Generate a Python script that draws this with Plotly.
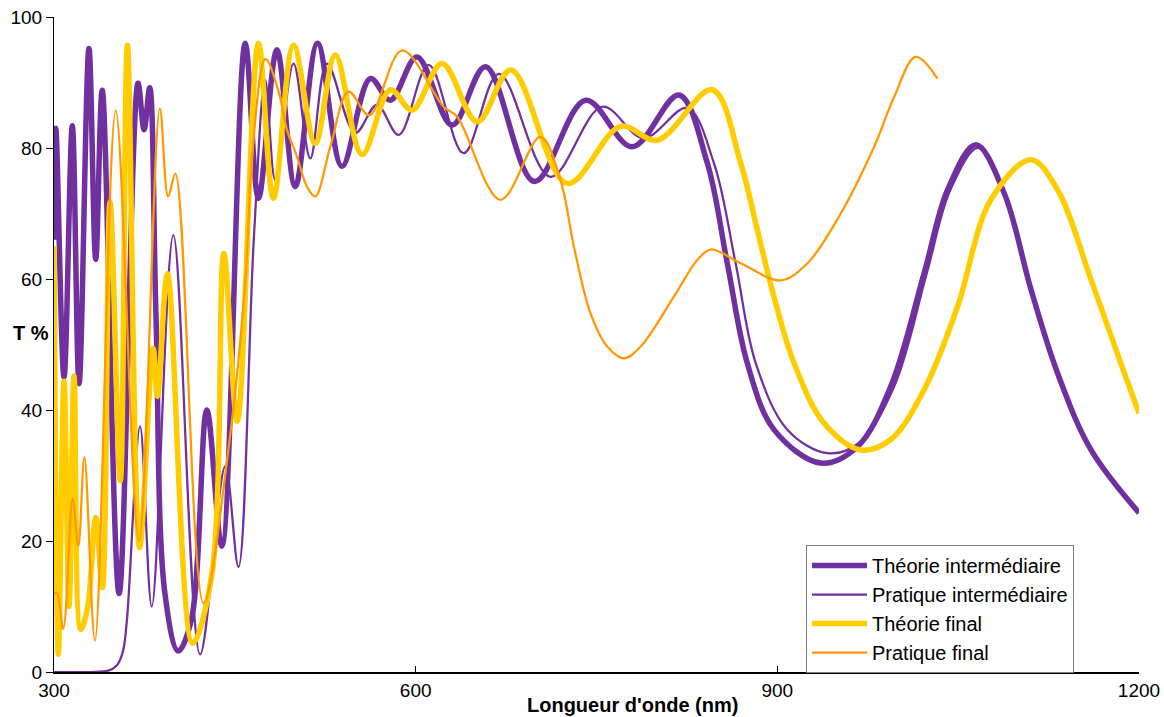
import plotly.graph_objects as go

# Transmission spectra, wavelength (nm) vs T (%)
theorie_inter_x = [300, 301.5, 308.3, 315.2, 320.8, 329, 334.6, 340, 354, 369.7, 374.7, 379.4,
                   384.5, 392, 403, 414, 426.8, 439.2, 458.6, 469.6, 484.9, 500.1, 518.6, 538.9,
                   562.4, 579, 601.1, 630.2, 657.9, 698.5, 741, 779.6, 818.3, 841.9, 858.5, 875,
                   897.2, 936, 966.4, 994.1, 1021.8, 1041.2, 1064.7, 1088.2, 1110.4, 1132.5,
                   1160.2, 1200]
theorie_inter_y = [66, 83, 45, 83.4, 44, 95.2, 63, 88.8, 12, 89.9, 82.8, 89.2,
                   55, 12, 3.2, 8, 40, 19.2, 96, 72.3, 95, 74.1, 96, 77.2,
                   90.6, 87.3, 93.9, 83.5, 92.4, 74.9, 87.3, 80.2, 88.1, 77.7, 62.4, 47.2,
                   37, 31.9, 34.4, 43.6, 60.9, 73.6, 80.5, 73.1, 58.4, 45.6,
                   33.9, 24.3]

pratique_inter_x = [300, 330, 345, 352, 357, 360.5, 371.4, 381.1, 399, 421.2, 442, 453,
                    465.8, 475.2, 483.5, 498.7, 512.6, 526.4, 549.9, 567.9, 585.9, 610.8,
                    639.8, 669, 711.8, 754.7, 789, 825.3, 847.4, 865.4, 882, 908.3, 941.6,
                    968, 996.9, 1024, 1043.5, 1066.6, 1088.2, 1110.4, 1132.5, 1160.2, 1200]
pratique_inter_y = [0, 0, 0.2, 1, 3, 8, 37.5, 10, 66.7, 2.7, 31.4, 16,
                    66.3, 90.4, 75.1, 92.9, 78.4, 92.9, 82.3, 86.6, 82, 92.7,
                    79.2, 91.3, 75.6, 86.3, 81.5, 86.1, 77.7, 62.4, 47.2, 37, 33.4,
                    35, 43.6, 60.9, 73.6, 80, 73.1, 58.4, 45.6, 33.9, 24.3]

theorie_final_x = [300, 303.6, 308.3, 312.5, 316.6, 322.2, 328, 334.6, 340.1, 346.5, 355,
                   360.9, 371, 382.2, 385.8, 394.1, 415, 431, 440.9, 452, 469.6, 482, 498.7,
                   516.7, 533.3, 555.5, 579, 597, 621.9, 651, 679, 725.7, 770, 800.4, 846,
                   869.6, 883.4, 897.2, 913.8, 938.7, 969.2, 994.1, 1021.8, 1049.5, 1077.1,
                   1110.4, 1132.5, 1160.2, 1187.9, 1200]
theorie_final_y = [65, 2.7, 44.4, 10, 45.2, 6.5, 10, 23.6, 12.9, 71.8, 29.2,
                   95.7, 19, 49.4, 42.1, 60.8, 4.4, 15, 63.9, 38.3, 96, 72.3, 95.7,
                   80.7, 94.2, 79, 88.9, 85.8, 92.9, 84, 91.9, 74.6, 83.3, 81.2, 88.9,
                   77.7, 67.5, 57.3, 47.2, 38, 33.9, 35.5, 43.1, 55.8, 72.1,
                   78.2, 73.6, 59.9, 45.6, 39.5]

pratique_final_x = [300, 302.5, 307.7, 315.5, 320.2, 325.2, 334, 351.2, 370.5, 387.8, 394.7,
                    400.7, 424, 445, 458.8, 464.4, 475.4, 486.5, 493.2, 501.5, 509.8, 516.7,
                    529.2, 544.4, 561.5, 588.7, 623.2, 634.3, 670.3, 703.5, 720.1, 731.2,
                    745, 758.9, 772.7, 786.6, 814.2, 833.6, 844.7, 869.6, 902.8, 925, 952.6,
                    980.3, 996.9, 1014.8, 1032.8]
pratique_final_y = [12, 12, 6.6, 26.5, 19.2, 32.8, 4.8, 85.7, 20, 86, 72.6,
                    76.1, 10.5, 34.5, 59.9, 78.9, 93.6, 88.5, 82.8, 78.7, 74.1, 72.6,
                    80.2, 88.6, 85, 94.9, 86.3, 84.8, 72.1, 81.7, 75.1, 65,
                    54.8, 49.7, 47.9, 49.7, 57.3, 62.9, 64.5, 62.4, 59.8, 62.4, 70,
                    80.2, 87.8, 93.9, 90.6]

x_ticks = [300, 600, 900, 1200]
y_ticks = [0, 20, 40, 60, 80, 100]

PURPLE = "#7030A0"
YELLOW = "#FFCC00"
ORANGE = "#FF9900"
FONT = "Liberation Sans, Arial, sans-serif"

series = [
    ("Théorie intermédiaire", theorie_inter_x, theorie_inter_y, PURPLE, 5.5),
    ("Pratique intermédiaire", pratique_inter_x, pratique_inter_y, PURPLE, 2.25),
    ("Théorie final", theorie_final_x, theorie_final_y, YELLOW, 5.5),
    ("Pratique final", pratique_final_x, pratique_final_y, ORANGE, 2.25),
]

fig = go.Figure()
for name, xs, ys, color, width in series:
    fig.add_trace(go.Scatter(
        x=xs, y=ys, name=name, mode="lines",
        line=dict(color=color, width=width, shape="spline", smoothing=1.0),
    ))

fig.update_layout(
    width=1164, height=717,
    margin=dict(l=54, r=25, t=17, b=45, autoexpand=False),
    paper_bgcolor="white", plot_bgcolor="white",
    font=dict(family=FONT, color="black"),
    showlegend=True,
    legend=dict(
        x=(806 - 54) / 1085, y=(672 - 545) / 655, xanchor="left", yanchor="top",
        bgcolor="white", bordercolor="#808080", borderwidth=1,
        font=dict(family=FONT, size=20, color="black"),
        itemwidth=55, tracegroupgap=0,
    ),
    xaxis=dict(
        range=[300, 1200], tickvals=x_ticks, ticktext=[str(v) for v in x_ticks],
        showgrid=False, zeroline=False, showline=True, linecolor="black", linewidth=1.5,
        ticks="inside", ticklen=6, tickcolor="black",
        tickfont=dict(family=FONT, size=19, color="black"),
    ),
    yaxis=dict(
        range=[0, 100], tickvals=y_ticks, ticktext=[str(v) for v in y_ticks],
        showgrid=False, zeroline=False, showline=True, linecolor="black", linewidth=1,
        ticks="outside", ticklen=7, tickcolor="black",
        tickfont=dict(family=FONT, size=19, color="black"),
    ),
    annotations=[
        dict(text="<b>Longueur d'onde (nm)</b>", xref="paper", yref="paper",
             x=(632 - 54) / 1085, y=-(705 - 672) / 655, xanchor="center", yanchor="middle",
             showarrow=False, font=dict(family=FONT, size=20, color="black")),
        dict(text="<b>T %</b>", xref="paper", yref="paper",
             x=(31 - 54) / 1085, y=(672 - 333) / 655, xanchor="center", yanchor="middle",
             showarrow=False, font=dict(family=FONT, size=20, color="black")),
    ],
)

fig.write_html("out.html")
